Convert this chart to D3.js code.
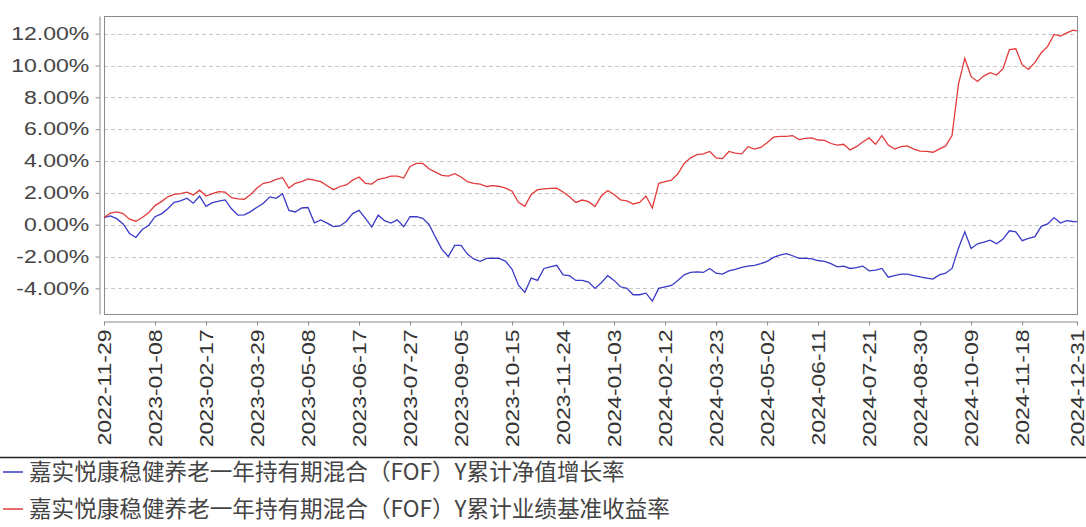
<!DOCTYPE html>
<html>
  <head>
    <meta charset="utf-8">
    <title>累计净值增长率</title>
    <script src="https://cdnjs.cloudflare.com/ajax/libs/d3/7.8.5/d3.min.js" charset="utf-8"></script>
    <style>
      body {
        margin: 0;
        background-color: #FFF;
      }
      svg {
        display: block;
        background-color: #FFF;
      }
    </style>
  </head>
  <body>
    <svg width="1086" height="527"></svg>

    <script>
      // dates read every 5 days off the picture
      var dates = [
        "2022-11-29","2022-12-04","2022-12-09","2022-12-14","2022-12-19","2022-12-24","2022-12-29",
        "2023-01-03","2023-01-08","2023-01-13","2023-01-18","2023-01-23","2023-01-28","2023-02-02",
        "2023-02-07","2023-02-12","2023-02-17","2023-02-22","2023-02-27","2023-03-04","2023-03-09",
        "2023-03-14","2023-03-19","2023-03-24","2023-03-29","2023-04-03","2023-04-08","2023-04-13",
        "2023-04-18","2023-04-23","2023-04-28","2023-05-03","2023-05-08","2023-05-13","2023-05-18",
        "2023-05-23","2023-05-28","2023-06-02","2023-06-07","2023-06-12","2023-06-17","2023-06-22",
        "2023-06-27","2023-07-02","2023-07-07","2023-07-12","2023-07-17","2023-07-22","2023-07-27",
        "2023-08-01","2023-08-06","2023-08-11","2023-08-16","2023-08-21","2023-08-26","2023-08-31",
        "2023-09-05","2023-09-10","2023-09-15","2023-09-20","2023-09-25","2023-09-30","2023-10-05",
        "2023-10-10","2023-10-15","2023-10-20","2023-10-25","2023-10-30","2023-11-04","2023-11-09",
        "2023-11-14","2023-11-19","2023-11-24","2023-11-29","2023-12-04","2023-12-09","2023-12-14",
        "2023-12-19","2023-12-24","2023-12-29","2024-01-03","2024-01-08","2024-01-13","2024-01-18",
        "2024-01-23","2024-01-28","2024-02-02","2024-02-07","2024-02-12","2024-02-17","2024-02-22",
        "2024-02-27","2024-03-03","2024-03-08","2024-03-13","2024-03-18","2024-03-23","2024-03-28",
        "2024-04-02","2024-04-07","2024-04-12","2024-04-17","2024-04-22","2024-04-27","2024-05-02",
        "2024-05-07","2024-05-12","2024-05-17","2024-05-22","2024-05-27","2024-06-01","2024-06-06",
        "2024-06-11","2024-06-16","2024-06-21","2024-06-26","2024-07-01","2024-07-06","2024-07-11",
        "2024-07-16","2024-07-21","2024-07-26","2024-07-31","2024-08-05","2024-08-10","2024-08-15",
        "2024-08-20","2024-08-25","2024-08-30","2024-09-04","2024-09-09","2024-09-14","2024-09-19",
        "2024-09-24","2024-09-29","2024-10-04","2024-10-09","2024-10-14","2024-10-19","2024-10-24",
        "2024-10-29","2024-11-03","2024-11-08","2024-11-13","2024-11-18","2024-11-23","2024-11-28",
        "2024-12-03","2024-12-08","2024-12-13","2024-12-18","2024-12-23","2024-12-28","2024-12-31"
      ];

      // 累计净值增长率 (%)
      var navGrowth = [
        0.45, 0.55, 0.38, 0.05, -0.55, -0.80, -0.30,
        -0.05, 0.50, 0.68, 1.00, 1.40, 1.50, 1.66,
        1.35, 1.80, 1.15, 1.38, 1.48, 1.56, 1.00,
        0.60, 0.62, 0.82, 1.10, 1.35, 1.75, 1.66,
        1.95, 0.90, 0.80, 1.05, 1.08, 0.12, 0.30,
        0.10, -0.12, -0.08, 0.20, 0.70, 0.90, 0.40,
        -0.15, 0.60, 0.25, 0.10, 0.30, -0.13, 0.50,
        0.50, 0.40, 0.00, -0.80, -1.55, -2.00, -1.30,
        -1.30, -1.85, -2.15, -2.30, -2.12, -2.10, -2.12,
        -2.30, -2.80, -3.80, -4.25, -3.35, -3.50, -2.75,
        -2.65, -2.55, -3.15, -3.20, -3.50, -3.50, -3.60,
        -4.00, -3.65, -3.20, -3.50, -3.90, -4.00, -4.40,
        -4.40, -4.30, -4.80, -4.00, -3.90, -3.82, -3.50,
        -3.15, -3.00, -2.96, -3.00, -2.75, -3.05, -3.10,
        -2.90, -2.80, -2.68, -2.60, -2.55, -2.45, -2.30,
        -2.05, -1.91, -1.82, -1.95, -2.12, -2.10, -2.15,
        -2.25, -2.30, -2.45, -2.65, -2.60, -2.75, -2.70,
        -2.60, -2.90, -2.85, -2.75, -3.30, -3.20, -3.10,
        -3.10, -3.20, -3.28, -3.35, -3.42, -3.15, -3.05,
        -2.75, -1.50, -0.45, -1.50, -1.20, -1.10, -0.97,
        -1.20, -0.90, -0.38, -0.45, -1.00, -0.86, -0.75,
        -0.10, 0.05, 0.45, 0.10, 0.25, 0.20, 0.19
      ];

      // 累计业绩基准收益率 (%)
      var benchmark = [
        0.45, 0.72, 0.80, 0.70, 0.35, 0.22, 0.45,
        0.75, 1.20, 1.45, 1.75, 1.90, 1.95, 2.05,
        1.87, 2.17, 1.80, 1.95, 2.08, 2.05, 1.70,
        1.62, 1.60, 1.90, 2.30, 2.60, 2.68, 2.85,
        2.95, 2.30, 2.60, 2.70, 2.88, 2.80, 2.70,
        2.45, 2.20, 2.40, 2.50, 2.80, 3.00, 2.60,
        2.55, 2.85, 2.92, 3.05, 3.05, 2.93, 3.66,
        3.85, 3.85, 3.50, 3.30, 3.10, 3.05, 3.20,
        3.00, 2.70, 2.60, 2.55, 2.40, 2.45, 2.40,
        2.30, 2.10, 1.40, 1.15, 1.90, 2.20, 2.25,
        2.28, 2.30, 2.05, 1.75, 1.40, 1.55, 1.45,
        1.14, 1.80, 2.15, 1.90, 1.56, 1.50, 1.30,
        1.40, 1.80, 1.05, 2.60, 2.70, 2.80, 3.20,
        3.85, 4.20, 4.40, 4.45, 4.60, 4.20, 4.15,
        4.60, 4.50, 4.45, 4.90, 4.75, 4.85, 5.15,
        5.50, 5.55, 5.55, 5.60, 5.35, 5.42, 5.45,
        5.32, 5.30, 5.10, 5.00, 5.05, 4.70, 4.90,
        5.20, 5.45, 5.05, 5.60, 5.00, 4.75, 4.90,
        4.95, 4.75, 4.62, 4.60, 4.55, 4.75, 4.95,
        5.60, 8.80, 10.45, 9.30, 9.00, 9.35, 9.55,
        9.40, 9.80, 11.00, 11.05, 10.05, 9.75, 10.20,
        10.80, 11.20, 11.95, 11.85, 12.05, 12.22, 12.18
      ];

      var xTickLabels = [
        "2022-11-29","2023-01-08","2023-02-17","2023-03-29","2023-05-08","2023-06-17","2023-07-27",
        "2023-09-05","2023-10-15","2023-11-24","2024-01-03","2024-02-12","2024-03-23","2024-05-02",
        "2024-06-11","2024-07-21","2024-08-30","2024-10-09","2024-11-18","2024-12-31"
      ];
      var yTicks = [-4, -2, 0, 2, 4, 6, 8, 10, 12];

      var seriesNames = [
        "嘉实悦康稳健养老一年持有期混合（FOF）Y累计净值增长率",
        "嘉实悦康稳健养老一年持有期混合（FOF）Y累计业绩基准收益率"
      ];
      var seriesColors = ["#3a3ac8", "#e23a3a"];

      var parseDate = d3.utcParse("%Y-%m-%d");
      var svg = d3.select("svg");

      // plot box (window.top is taken, so own names)
      var plotLeft = 104, plotRight = 1077, plotTop = 16, plotBottom = 314;

      var x = d3.scaleUtc()
        .domain([parseDate("2022-11-29"), parseDate("2024-12-31")])
        .range([plotLeft, plotRight]);

      var y = d3.scaleLinear()
        .domain([-5.61, 13.11])
        .range([plotBottom, plotTop]);

      // dashed grid
      svg.append("g").selectAll("line").data(yTicks).enter().append("line")
        .attr("x1", plotLeft).attr("x2", plotRight)
        .attr("y1", function(d) { return Math.round(y(d)) + 0.5 })
        .attr("y2", function(d) { return Math.round(y(d)) + 0.5 })
        .attr("stroke", "#c8c8c8")
        .attr("stroke-dasharray", "4,3");

      // plot frame
      svg.append("rect")
        .attr("x", plotLeft + 0.5).attr("y", plotTop + 0.5)
        .attr("width", plotRight - plotLeft).attr("height", plotBottom - plotTop)
        .attr("fill", "none")
        .attr("stroke", "#8a8a8a");

      // y axis, sits a few px left of the frame
      var yAxis = svg.append("g")
        .attr("transform", "translate(99.5,0)")
        .call(d3.axisLeft(y).tickValues(yTicks).tickSize(4).tickSizeOuter(0)
          .tickFormat(function(d) { return d.toFixed(2) + "%" }));

      yAxis.selectAll("text")
        .attr("x", -8)
        .attr("transform", "scale(1.28,1)")
        .style("font-family", "'Liberation Sans', Arial, sans-serif")
        .style("font-size", "18px")
        .attr("fill", "#444");

      // x axis, below the frame
      var xAxis = svg.append("g")
        .attr("transform", "translate(0,321.5)")
        .call(d3.axisBottom(x).tickValues(xTickLabels.map(parseDate)).tickSize(4).tickSizeOuter(0)
          .tickFormat(d3.utcFormat("%Y-%m-%d")));

      xAxis.selectAll("text")
        .attr("x", 0).attr("y", 0).attr("dy", "0.35em")
        .attr("text-anchor", "end")
        .attr("transform", "translate(0,8) rotate(-90) scale(1.28,1)")
        .style("font-family", "'Liberation Sans', Arial, sans-serif")
        .style("font-size", "18px")
        .attr("fill", "#333");

      svg.selectAll(".domain, .tick line").attr("stroke", "#8a8a8a");

      // the two lines
      var line = d3.line()
        .x(function(d) { return x(d.date) })
        .y(function(d) { return y(d.value) });

      [navGrowth, benchmark].forEach(function(values, k) {
        var pts = values.map(function(v, i) { return { date: parseDate(dates[i]), value: v } });
        svg.append("path")
          .datum(pts)
          .attr("d", line)
          .attr("fill", "none")
          .attr("stroke", seriesColors[k])
          .attr("stroke-width", 1.3);
      });

      // legend
      svg.append("line")
        .attr("x1", 0).attr("x2", 1086)
        .attr("y1", 457.5).attr("y2", 457.5)
        .attr("stroke", "#222")
        .attr("stroke-width", 1.5);

      var legend = svg.append("g").selectAll("g").data(seriesNames).enter().append("g")
        .attr("transform", function(d, i) { return "translate(0," + (472 + i * 37) + ")" });

      legend.append("line")
        .attr("x1", 3).attr("x2", 23)
        .attr("stroke", function(d, i) { return seriesColors[i] })
        .attr("stroke-width", 1.5);

      legend.append("text")
        .attr("x", 29)
        .attr("dy", "0.36em")
        .style("font-family", "'Noto Sans CJK SC', sans-serif")
        .style("font-size", "22.6px")
        .attr("fill", "#444")
        .text(function(d) { return d });
    </script>
  </body>
</html>
